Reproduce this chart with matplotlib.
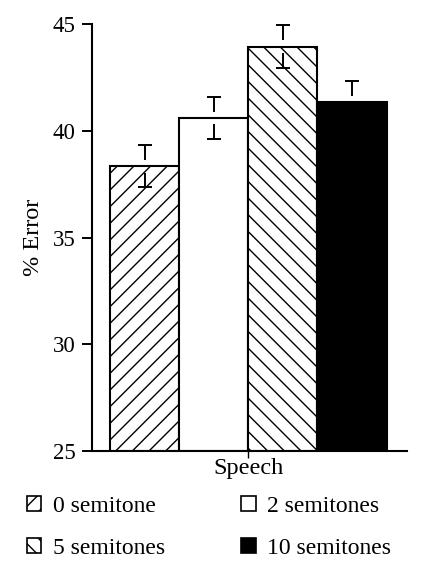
import matplotlib
matplotlib.use('Agg')
import matplotlib.pyplot as plt
import matplotlib.patches as mpatches
import numpy as np

plt.rcParams['font.family'] = ['Liberation Serif', 'DejaVu Serif']
plt.rcParams['hatch.linewidth'] = 1.0

# data
conditions = ['0 semitone', '2 semitones', '5 semitones', '10 semitones']
errors_pct = [38.35, 40.6, 43.95, 41.35]
sem = [1.0, 1.0, 1.0, 1.0]
group = 'Speech'

fills = ['white', 'white', 'white', 'black']
hatches = ['//', '', '\\\\', '']

fig = plt.figure(figsize=(4.26, 5.74), dpi=100)
ax = fig.add_axes([0.216, 0.214, 0.74, 0.744])

width = 1.0
x = (np.arange(len(conditions)) - 1.5) * width
for i in range(len(conditions)):
    ax.bar(x[i], errors_pct[i] - 25, bottom=25, width=width, color=fills[i],
           edgecolor='black', linewidth=1.5, hatch=hatches[i], zorder=2)

# error bars: caps with short stems, gap around the bar top
v = np.array(errors_pct)
e = np.array(sem)
ax.errorbar(x, v, yerr=e, fmt='none', elinewidth=0, capsize=5, capthick=1.4,
            ecolor='black', zorder=3)
ax.vlines(x, v + 0.3 * e, v + e, color='black', linewidth=1.4, zorder=3)
ax.vlines(x, v - e, v - 0.3 * e, color='black', linewidth=1.4, zorder=3)

ax.set_ylim(25, 45)
ax.set_xlim(x[0] - 0.76, x[-1] + 0.8)
ax.set_yticks([25, 30, 35, 40, 45])
ax.set_xticks([0])
ax.set_xticklabels([group])
ax.tick_params(axis='y', direction='out', length=7, width=1.4, labelsize=16.5, pad=5)
ax.tick_params(axis='x', direction='out', length=5, width=1.0, labelsize=17.5, pad=0)
ax.set_ylabel('% Error', fontsize=17.5, labelpad=6)
for s in ['top', 'right']:
    ax.spines[s].set_visible(False)
for s in ['left', 'bottom']:
    ax.spines[s].set_linewidth(1.5)

handles = [mpatches.Patch(facecolor=fills[i], edgecolor='black', hatch=hatches[i],
                          linewidth=1.2, label=conditions[i]) for i in range(4)]
order = [0, 2, 1, 3]
fig.legend([handles[i] for i in order], [conditions[i] for i in order],
           ncol=2, loc='center left', bbox_to_anchor=(0.063, 0.081), frameon=False,
           fontsize=17, handlelength=0.62, handleheight=0.62, handletextpad=0.5,
           columnspacing=3.2, labelspacing=0.9, borderpad=0, borderaxespad=0)

fig.savefig('out.png', dpi=100)
